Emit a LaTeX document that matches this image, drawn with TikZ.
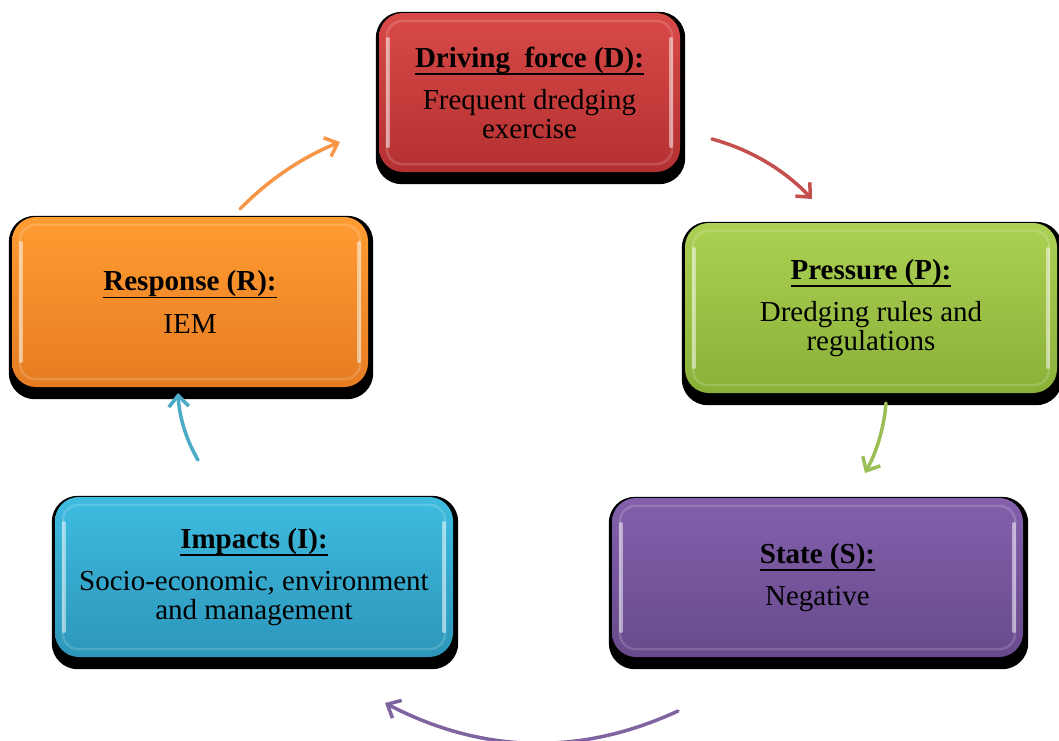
\documentclass[tikz,border=0pt]{standalone}
\usepackage{fontspec}
\setmainfont{Liberation Serif}
\usetikzlibrary{arrows.meta,calc,backgrounds}

% panel fills (top / bottom of the gradient)
\definecolor{dTop}{RGB}{216,74,72}\definecolor{dBot}{RGB}{180,48,48}
\definecolor{pTop}{RGB}{172,208,82}\definecolor{pBot}{RGB}{138,176,56}
\definecolor{sTop}{RGB}{132,96,172}\definecolor{sBot}{RGB}{104,74,140}
\definecolor{iTop}{RGB}{62,188,224}\definecolor{iBot}{RGB}{44,150,186}
\definecolor{rTop}{RGB}{255,156,50}\definecolor{rBot}{RGB}{230,124,34}
% connector colours
\definecolor{dArr}{RGB}{196,80,77}
\definecolor{pArr}{RGB}{155,190,85}
\definecolor{sArr}{RGB}{128,100,162}
\definecolor{iArr}{RGB}{75,172,198}
\definecolor{rArr}{RGB}{247,150,70}

% underlined heading with a fixed rule position
\newcommand\ulbox[1]{\setbox0=\hbox{#1}\rlap{\copy0}\rule[-7.5pt]{\wd0}{1.6pt}}
\newcommand\boxtitle[1]{{\bfseries\ulbox{#1}}}

\tikzset{
  panel/.style={rounded corners=24pt, inner sep=0pt, align=center,
    font=\fontsize{29}{28.5}\selectfont, text=black, draw=none},
  arr/.style={line width=3.5pt, line cap=round, line join=round,
    -{Straight Barb[length=11pt,width=20pt]}},
  bevel/.style={white, opacity=.16, line width=2.5pt, rounded corners=16pt},
  gloss/.style={white, opacity=.5, line width=3.5pt, line cap=round}
}

\begin{document}
\begin{tikzpicture}[x=1pt,y=-1pt]
\useasboundingbox (0,0) rectangle (1059,740);

% the five panels
\node[panel, minimum width=301pt, minimum height=159pt, top color=dTop, bottom color=dBot]
  (D) at (529.5,92.5) {\boxtitle{Driving~~force (D):}\\[14pt]Frequent dredging\\exercise};
\node[panel, minimum width=372pt, minimum height=170pt, top color=pTop, bottom color=pBot]
  (P) at (871,308) {\boxtitle{Pressure (P):}\\[14pt]Dredging rules and\\regulations};
\node[panel, minimum width=411pt, minimum height=159pt, top color=sTop, bottom color=sBot]
  (S) at (817.5,577.5) {\boxtitle{State (S):}\\[14pt]Negative};
\node[panel, minimum width=398pt, minimum height=160pt, top color=iTop, bottom color=iBot]
  (I) at (254,577) {\boxtitle{Impacts (I):}\\[14pt]Socio-economic, environment\\and management};
\node[panel, minimum width=356pt, minimum height=170pt, top color=rTop, bottom color=rBot]
  (R) at (190,302) {\boxtitle{Response (R):}\\[14pt]IEM};

% bevel highlights
\foreach \n in {D,P,S,I,R}{
  \draw[bevel] ($(\n.south west)+(8,-8)$) rectangle ($(\n.north east)+(-8,8)$);
  \draw[gloss] ($(\n.south west)+(9,-26)$) -- ($(\n.north west)+(9,26)$);
  \draw[gloss] ($(\n.south east)+(-9,-26)$) -- ($(\n.north east)+(-9,26)$);
}

% white page and drop shadows behind the panels
\begin{scope}[on background layer]
  \fill[white] (0,0) rectangle (1059,740);
  \foreach \n in {D,P,S,I,R}{
    \fill[black, rounded corners=26pt] ($(\n.south west)+(-3,12)$) rectangle ($(\n.north east)+(5,-1)$);
  }
\end{scope}

% connector ends and the bulge point of each curve
\coordinate (dp1) at (712,139);  \coordinate (dp2) at (812,199);  \coordinate (dpq) at (770,155);
\coordinate (ps1) at (886,403);  \coordinate (ps2) at (865,473);  \coordinate (psq) at (883,440);
\coordinate (si1) at (678,711);  \coordinate (si2) at (385,703);  \coordinate (siq) at (531,779);
\coordinate (ir1) at (198,460);  \coordinate (ir2) at (178,393);  \coordinate (irq) at (180,429);
\coordinate (rd1) at (240,209);  \coordinate (rd2) at (340,142);  \coordinate (rdq) at (283,165);

% the cycle
\foreach \a/\c in {dp/dArr, ps/pArr, si/sArr, ir/iArr, rd/rArr}{
  \draw[arr, \c] (\a1) .. controls ($(\a1)!2/3!(\a q)$) and ($(\a2)!2/3!(\a q)$) .. (\a2);
}
\end{tikzpicture}
\end{document}
